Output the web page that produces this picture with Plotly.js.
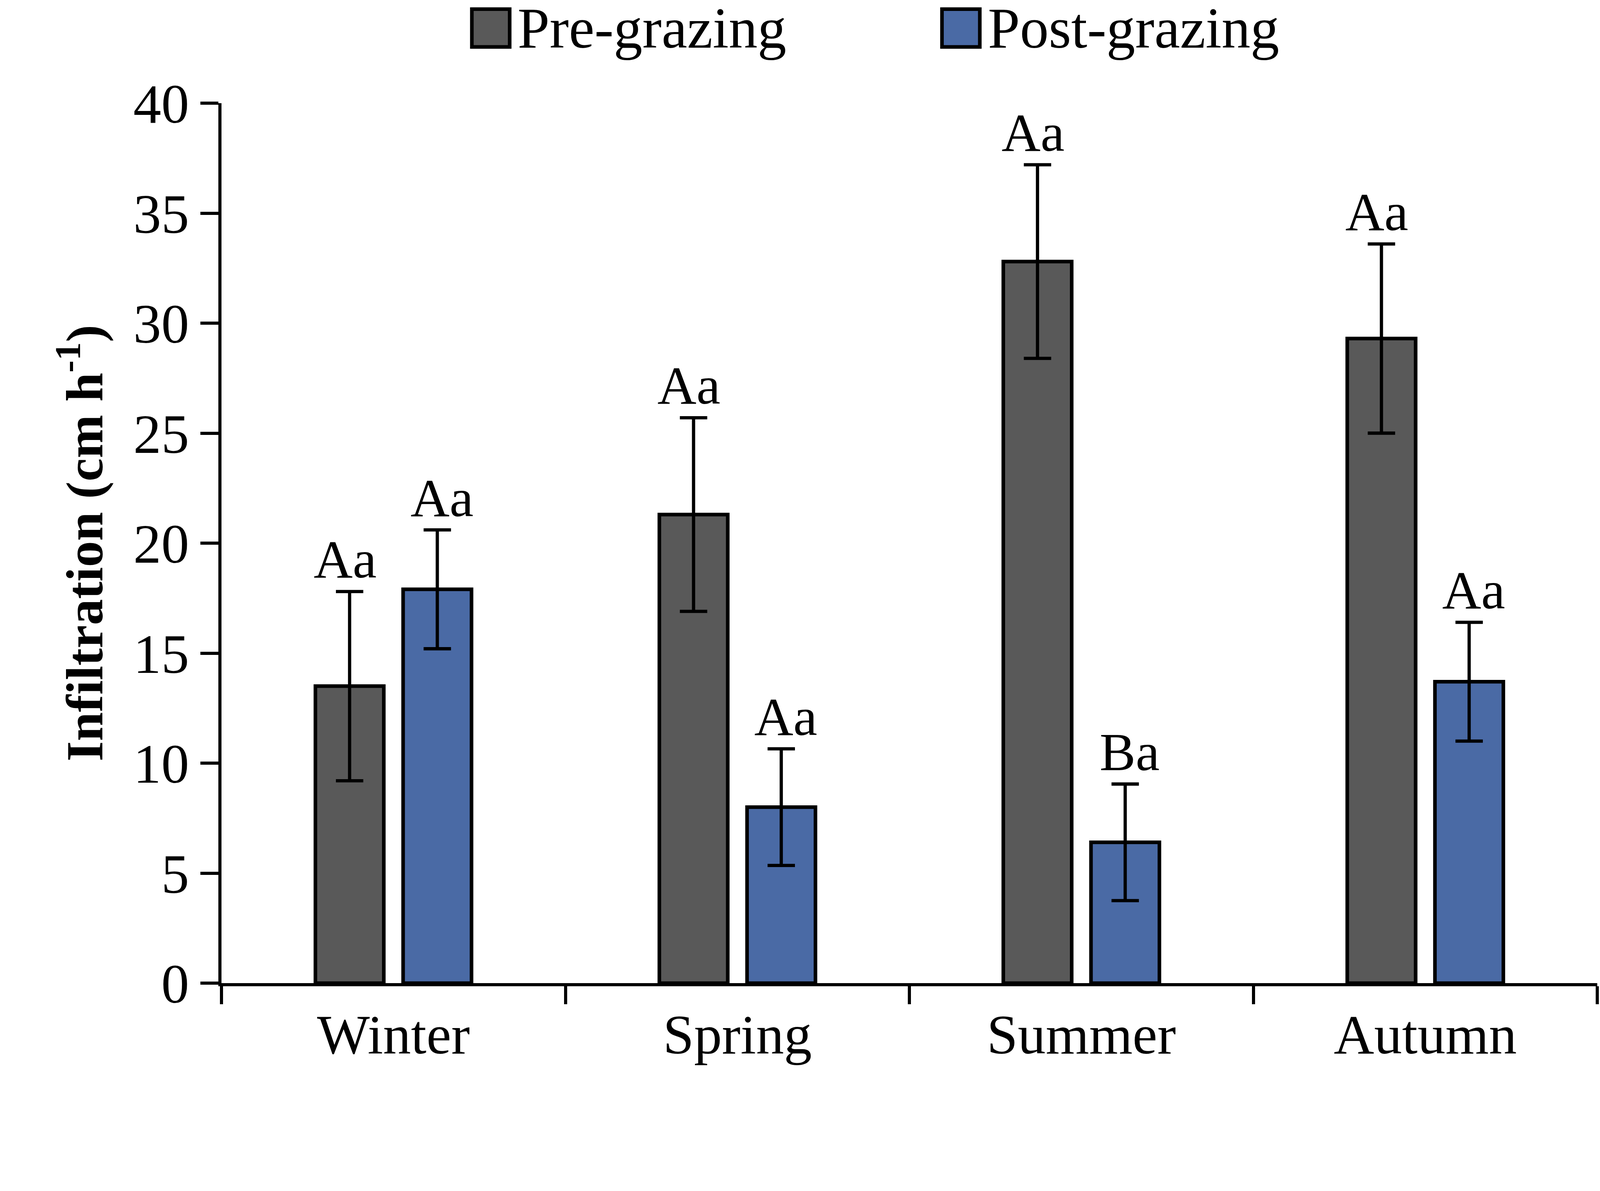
<!DOCTYPE html>
<html>
<head>
<meta charset="utf-8">
<script src="https://cdn.plot.ly/plotly-3.0.1.min.js"></script>
<style>html,body{margin:0;padding:0;background:#fff;overflow:hidden;}</style>
</head>
<body>
<div id="chart"></div>
<script>
const seasons = ['Winter', 'Spring', 'Summer', 'Autumn'];
const preValues = [13.5, 21.3, 32.8, 29.3];
const preErrors = [4.3, 4.4, 4.4, 4.3];
const postValues = [17.9, 8.0, 6.4, 13.7];
const postErrors = [2.7, 2.65, 2.65, 2.7];
const preLabels = ['Aa', 'Aa', 'Aa', 'Aa'];
const postLabels = ['Aa', 'Aa', 'Ba', 'Aa'];
const seriesNames = ['Pre-grazing', 'Post-grazing'];
const seriesColors = ['#595959', '#4a6aa5'];

const font = 'Liberation Serif, Times New Roman, serif';
const offset = 0.141;

// scale everything to the real viewport
const W = window.innerWidth, H = window.innerHeight;
const s = Math.min(W / 4442, H / 3048);
const px = v => v * s;

function barTrace(name, values, errors, color) {
    return {
        x: seasons,
        y: values,
        name: name,
        type: 'bar',
        marker: {color: color, line: {color: '#000', width: px(10)}},
        error_y: {type: 'data', array: errors, visible: true, color: '#000', thickness: px(9), width: px(38)}
    };
}

const labelFont = {family: font, size: px(150), color: '#000'};
const annotations = [];
seasons.forEach((season, i) => {
    annotations.push({x: i - offset, y: preValues[i] + preErrors[i], text: preLabels[i],
        showarrow: false, yanchor: 'bottom', yshift: px(4), font: labelFont});
    annotations.push({x: i + offset, y: postValues[i] + postErrors[i], text: postLabels[i],
        showarrow: false, yanchor: 'bottom', yshift: px(4), font: labelFont});
});

// manual legend (squares + text) placed in pixel-based paper coords
const mL = px(615), mR = px(8), mT = px(286), mB = px(320);
const plotW = 4442 * s - mL - mR, plotH = 3048 * s - mT - mB;
const toPX = x => (px(x) - mL) / plotW;
const toPY = y => (3048 * s - mB - px(y)) / plotH;
const legendX = [1310, 2615];
const shapes = [];
seriesNames.forEach((name, i) => {
    shapes.push({type: 'rect', xref: 'paper', yref: 'paper',
        x0: toPX(legendX[i]), x1: toPX(legendX[i] + 105), y0: toPY(130), y1: toPY(25),
        fillcolor: seriesColors[i], line: {color: '#000', width: px(10)}});
    annotations.push({xref: 'paper', yref: 'paper', x: toPX(legendX[i] + 125), y: toPY(78),
        xanchor: 'left', yanchor: 'middle', text: name, showarrow: false,
        font: {family: font, size: px(160), color: '#000'}});
});

const layout = {
    paper_bgcolor: '#fff',
    plot_bgcolor: '#fff',
    width: 4442 * s,
    height: 3048 * s,
    margin: {t: mT, b: mB, l: mL, r: mR},
    font: {family: font, color: '#000', size: px(150)},
    barmode: 'group',
    bargap: 0.49,
    bargroupgap: 0.22,
    showlegend: false,
    xaxis: {
        range: [-0.5, 3.5],
        showline: true, linecolor: '#000', linewidth: px(9),
        ticks: 'outside', tickson: 'boundaries', ticklen: px(50), tickwidth: px(9), tickcolor: '#000',
        tickfont: {family: font, size: px(155)}, showgrid: false, zeroline: false
    },
    yaxis: {
        range: [0, 40], dtick: 5,
        showline: true, linecolor: '#000', linewidth: px(9),
        ticks: 'outside', ticklen: px(50), tickwidth: px(9), tickcolor: '#000',
        tickfont: {family: font, size: px(155)}, showgrid: false, zeroline: false,
        title: {text: '<b>Infiltration (cm h<sup>-1</sup>)</b>', font: {family: font, size: px(145)}, standoff: px(40)}
    },
    shapes: shapes,
    annotations: annotations
};

Plotly.newPlot('chart', [
    barTrace(seriesNames[0], preValues, preErrors, seriesColors[0]),
    barTrace(seriesNames[1], postValues, postErrors, seriesColors[1])
], layout, {displayModeBar: false});
</script>
</body>
</html>
